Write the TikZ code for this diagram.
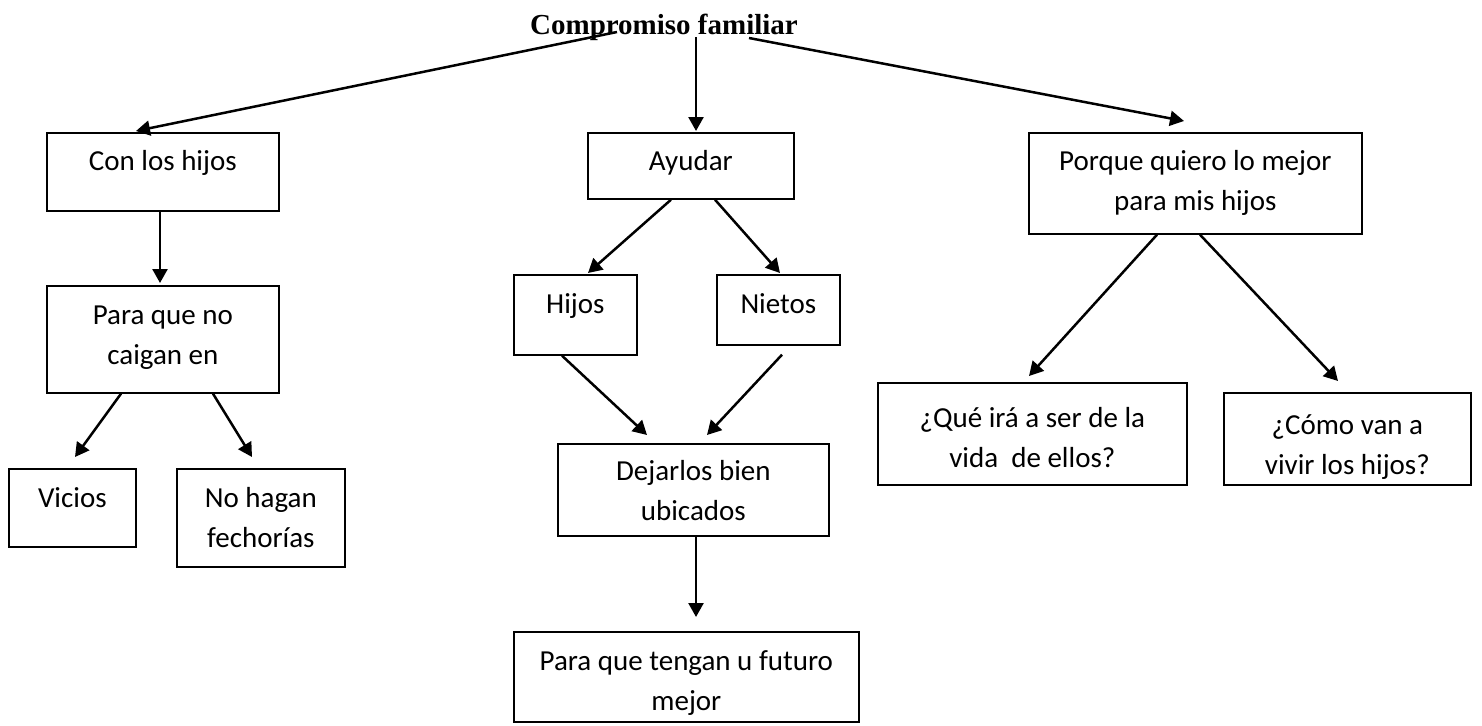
\documentclass[tikz,border=0pt]{standalone}
\usepackage{fontspec}
\setmainfont{Carlito}
\newfontfamily\titlefont{Liberation Serif}
\usetikzlibrary{arrows.meta,calc}
\newcommand{\bxt}[4]{\parbox[t][#2pt][t]{#1pt}{\centering\rule{0pt}{#3pt}#4}}
\tikzset{
  box/.style={draw, line width=1.7pt, inner sep=0pt, anchor=north west, font=\fontsize{29}{40}\selectfont},
  conn/.style={line width=2.5pt, -{Triangle[length=14pt,width=15pt]}},
  ttl/.style={inner sep=0pt, anchor=base, font=\titlefont\bfseries\fontsize{29}{34}\selectfont}
}
\begin{document}
\begin{tikzpicture}[x=1pt,y=-1pt]
\useasboundingbox[fill=white] (0,0) rectangle (1482,725);
\node[ttl] (title) at (664,35) {Compromiso familiar};
\node[box] (conhijos) at (46,132) {\bxt{232}{78}{38}{Con los hijos}};
\node[box] (ayudar) at (587,132) {\bxt{206}{66}{38}{Ayudar}};
\node[box] (porque) at (1028,132) {\bxt{333}{101}{38}{Porque quiero lo mejor\\para mis hijos}};
\node[box] (paraque) at (46,285) {\bxt{232}{107}{39}{Para que no\\caigan en}};
\node[box] (hijos) at (513,274) {\bxt{123}{80}{39}{Hijos}};
\node[box] (nietos) at (716,274) {\bxt{123}{70}{39}{Nietos}};
\node[box] (vicios) at (8,468) {\bxt{127}{78}{39}{Vicios}};
\node[box] (nohagan) at (176,468) {\bxt{168}{98}{39}{No hagan\\fechorías}};
\node[box] (dejarlos) at (557,443) {\bxt{271}{92}{37}{Dejarlos bien\\ubicados}};
\node[box] (futuro) at (513,631) {\bxt{345}{90}{39}{Para que tengan u futuro\\mejor}};
\node[box] (que) at (877,382) {\bxt{309}{102}{45}{¿Qué irá a ser de la\\vida~ de ellos?}};
\node[box] (como) at (1223,392) {\bxt{247}{92}{42}{¿Cómo van a\\vivir los hijos?}};
\draw[conn] ($(title.base)+(-47,-3)$) -- ($(conhijos.north west)+(90,-1)$);
\draw[conn] ($(title.base)+(32,2)$) -- ($(ayudar.north west)+(109,-1)$);
\draw[conn] ($(title.base)+(85,3)$) -- ($(porque.north west)+(156,-11)$);
\draw[conn] ($(conhijos.south west)+(114,0)$) -- ($(paraque.north west)+(114,-2)$);
\draw[conn] ($(ayudar.south west)+(84,0)$) -- ($(hijos.north west)+(75,-1)$);
\draw[conn] ($(ayudar.south west)+(128,0)$) -- ($(nietos.north west)+(64,-1)$);
\draw[conn] ($(porque.south west)+(129,0)$) -- ($(que.north west)+(152,-6)$);
\draw[conn] ($(porque.south west)+(172,0)$) -- ($(como.north west)+(115,-11)$);
\draw[conn] ($(paraque.south west)+(75,0)$) -- ($(vicios.north west)+(67,-11)$);
\draw[conn] ($(paraque.south west)+(167,0)$) -- ($(nohagan.north west)+(76,-11)$);
\draw[conn] ($(hijos.south west)+(49,0)$) -- ($(dejarlos.north west)+(90,-8)$);
\draw[conn] ($(nietos.south west)+(66,9)$) -- ($(dejarlos.north west)+(150,-8)$);
\draw[conn] ($(dejarlos.south west)+(139,0)$) -- ($(futuro.north west)+(183,-14)$);
\end{tikzpicture}
\end{document}
